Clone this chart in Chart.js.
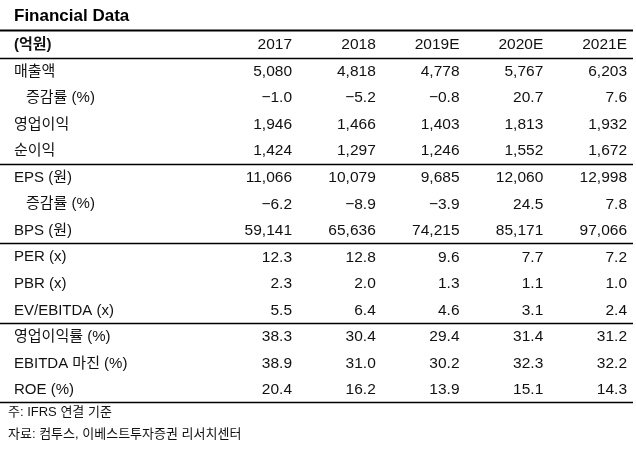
<!DOCTYPE html>
<html lang="ko">
<head>
  <meta charset="UTF-8">
  <title>Financial Data</title>
  <style>
    body { margin: 0; background: #fff; }
    #table { display: block; }
  </style>
</head>
<body>
  <canvas id="table" width="636" height="450"></canvas>

  <script src="https://cdn.jsdelivr.net/npm/chart.js"></script>
  <script>
    const title = "Financial Data";
    const unitLabel = "(억원)";
    const years = ["2017", "2018", "2019E", "2020E", "2021E"];
    const rowLabels = [
      "매출액", "증감률 (%)", "영업이익", "순이익",
      "EPS (원)", "증감률 (%)", "BPS (원)",
      "PER (x)", "PBR (x)", "EV/EBITDA (x)",
      "영업이익률 (%)", "EBITDA 마진 (%)", "ROE (%)"
    ];
    const rowDecimals = [0, 1, 0, 0, 0, 1, 0, 1, 1, 1, 1, 1, 1];
    // last row of each block, a rule is drawn under it
    const blockEnds = [4, 7, 10, 13];

    const values2017 = [5080, -1.0, 1946, 1424, 11066, -6.2, 59141, 12.3, 2.3, 5.5, 38.3, 38.9, 20.4];
    const values2018 = [4818, -5.2, 1466, 1297, 10079, -8.9, 65636, 12.8, 2.0, 6.4, 30.4, 31.0, 16.2];
    const values2019 = [4778, -0.8, 1403, 1246, 9685, -3.9, 74215, 9.6, 1.3, 4.6, 29.4, 30.2, 13.9];
    const values2020 = [5767, 20.7, 1813, 1552, 12060, 24.5, 85171, 7.7, 1.1, 3.1, 31.4, 32.3, 15.1];
    const values2021 = [6203, 7.6, 1932, 1672, 12998, 7.8, 97066, 7.2, 1.0, 2.4, 31.2, 32.2, 14.3];
    const columns = [values2017, values2018, values2019, values2020, values2021];

    const notes = ["주: IFRS 연결 기준", "자료: 컴투스, 이베스트투자증권 리서치센터"];

    const numFont = "15.5px 'Liberation Sans', Arial, sans-serif";
    const labelFont = "15px 'Liberation Sans', 'Noto Sans CJK KR', sans-serif";
    const ink = "#111";

    function fmt(v, d) {
      const s = Math.abs(v).toLocaleString("en-US", { minimumFractionDigits: d, maximumFractionDigits: d });
      return (v < 0 ? "\u2212" : "") + s;
    }

    // y = 0 is the header row, body rows are 1..13
    const datasets = years.map((yr, c) => ({
      label: yr,
      data: columns[c].map((v, r) => ({ x: yr, y: r + 1, v: v, d: rowDecimals[r] })),
      pointRadius: 0,
      showLine: false
    }));

    const tablePlugin = {
      id: "tableText",
      afterDatasetsDraw(chart) {
        const ctx = chart.ctx;
        const xs = chart.scales.x, ys = chart.scales.y;
        const fullLeft = 0, fullRight = 633;
        ctx.save();

        // title
        ctx.fillStyle = "#000";
        ctx.font = "bold 17px 'Liberation Sans', Arial, sans-serif";
        ctx.textBaseline = "middle";
        ctx.textAlign = "left";
        ctx.fillText(title, 14, 16);

        // rules
        ctx.strokeStyle = "#000";
        const rule = (v, w) => {
          const y = Math.round(ys.getPixelForValue(v)) + 0.5;
          ctx.lineWidth = w;
          ctx.beginPath();
          ctx.moveTo(fullLeft, y);
          ctx.lineTo(fullRight, y);
          ctx.stroke();
        };
        rule(-0.58, 2);
        rule(0.48, 1.5);
        blockEnds.forEach(r => rule(r + 0.47, 1.5));

        // header
        ctx.fillStyle = ink;
        ctx.font = "bold 15px 'Liberation Sans', 'Noto Sans CJK KR', sans-serif";
        ctx.textAlign = "left";
        ctx.fillText(unitLabel, 14, ys.getPixelForValue(0));
        ctx.font = numFont;
        ctx.textAlign = "right";
        years.forEach(yr => ctx.fillText(yr, xs.getPixelForValue(yr), ys.getPixelForValue(0)));

        // row labels
        ctx.font = labelFont;
        ctx.textAlign = "left";
        rowLabels.forEach((lab, r) => {
          const indent = lab.startsWith("증감률") ? 12 : 0;
          ctx.fillText(lab, 14 + indent, ys.getPixelForValue(r + 1));
        });

        // cells, placed on the points the library computed
        ctx.font = numFont;
        ctx.textAlign = "right";
        chart.data.datasets.forEach((ds, i) => {
          chart.getDatasetMeta(i).data.forEach((pt, j) => {
            const raw = ds.data[j];
            ctx.fillText(fmt(raw.v, raw.d), pt.x, pt.y);
          });
        });

        // notes
        ctx.font = "13px 'Liberation Sans', 'Noto Sans CJK KR', sans-serif";
        ctx.textAlign = "left";
        notes.forEach((n, k) => ctx.fillText(n, 8, ys.getPixelForValue(rowLabels.length + 0.83 + k * 0.85)));
        ctx.restore();
      }
    };

    new Chart(document.getElementById("table"), {
      type: "scatter",
      data: { datasets: datasets },
      options: {
        responsive: false,
        animation: false,
        layout: { padding: { left: 292, right: 9, top: 45, bottom: 60 } },
        plugins: { legend: { display: false }, tooltip: { enabled: false } },
        scales: {
          x: { type: "category", labels: years, offset: false, display: false },
          y: { type: "linear", reverse: true, min: 0, max: rowLabels.length, display: false }
        }
      },
      plugins: [tablePlugin]
    });
  </script>
</body>
</html>
